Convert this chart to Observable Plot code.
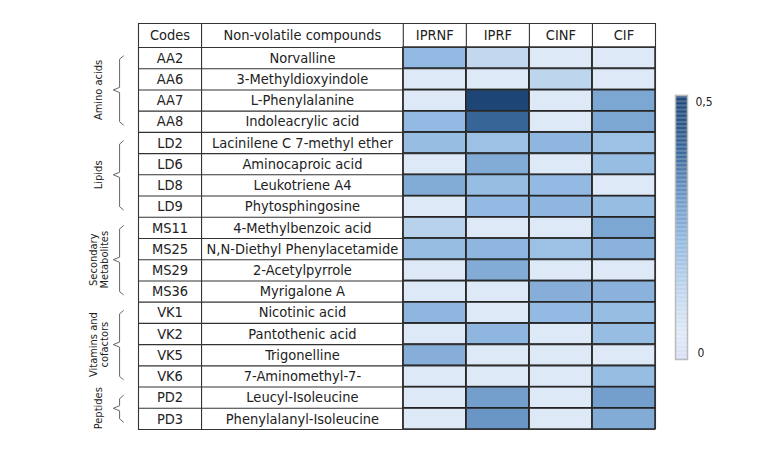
<!DOCTYPE html>
<html><head><meta charset="utf-8">
<script src="https://cdn.jsdelivr.net/npm/d3@7"></script>
<script src="https://cdn.jsdelivr.net/npm/@observablehq/plot@0.6"></script>
<style>
body{margin:0;background:#fff;}
#wrap{position:relative;width:773px;height:451px;overflow:hidden;}
#legend{position:absolute;left:669px;top:88px;}
</style></head><body>
<div id="wrap"><div id="main"></div><div id="legend"></div></div>
<script>
// ---- data ----
const groups = ["Amino acids", "Lipids", "Secondary\nMetabolites", "Vitamins and\ncofactors", "Peptides"];
const groupSizes = [4, 4, 4, 4, 2];
const codes = ["AA2","AA6","AA7","AA8","LD2","LD6","LD8","LD9","MS11","MS25","MS29","MS36","VK1","VK2","VK5","VK6","PD2","PD3"];
const compounds = ["Norvalline","3-Methyldioxyindole","L-Phenylalanine","Indoleacrylic acid",
  "Lacinilene C 7-methyl ether","Aminocaproic acid","Leukotriene A4","Phytosphingosine",
  "4-Methylbenzoic acid","N,N-Diethyl Phenylacetamide","2-Acetylpyrrole","Myrigalone A",
  "Nicotinic acid","Pantothenic acid","Trigonelline","7-Aminomethyl-7-",
  "Leucyl-Isoleucine","Phenylalanyl-Isoleucine"];
const samples = ["IPRNF", "IPRF", "CINF", "CIF"];
const IPRNF = [0.22,0.05,0.05,0.22, 0.21,0.05,0.26,0.05, 0.14,0.21,0.05,0.05, 0.23,0.05,0.25,0.05, 0.05,0.05];
const IPRF  = [0.12,0.05,0.50,0.40, 0.20,0.26,0.21,0.22, 0.05,0.23,0.26,0.05, 0.05,0.23,0.05,0.05, 0.29,0.31];
const CINF  = [0.05,0.13,0.05,0.05, 0.23,0.05,0.22,0.23, 0.05,0.20,0.05,0.25, 0.22,0.05,0.05,0.05, 0.05,0.05];
const CIF   = [0.05,0.05,0.27,0.27, 0.20,0.21,0.05,0.21, 0.27,0.24,0.05,0.24, 0.21,0.21,0.05,0.21, 0.29,0.26];
const headers = ["Codes", "Non-volatile compounds", ...samples];
const legendTicks = [0, 0.5];
const legendLabels = ["0", "0,5"];

// ---- layout ----
const colWidths = [1, 3.2, 1, 1, 1, 1];
const colX = [0]; colWidths.forEach(w => colX.push(colX[colX.length - 1] + w));
const H = 1.13;                     // header row height in row units
const totalH = H + codes.length;
const font = '"DejaVu Sans Condensed","Liberation Sans",sans-serif';
const colorScale = {
  type: "linear",
  domain: [0, 0.05, 0.12, 0.22, 0.3, 0.4, 0.5],
  range: ["#d9dff5", "#dde9f6", "#c3d8ef", "#93bae2", "#709bca", "#386598", "#1d4677"]
};

const rows = codes.map((c, i) => ({code: c, compound: compounds[i], row: i}));
const series = [IPRNF, IPRF, CINF, CIF];
const cells = samples.flatMap((s, j) => series[j].map((v, i) => ({sample: s, col: j, row: i, value: v})));
const headerData = headers.map((h, j) => ({text: h, col: j}));

let start = 0;
const groupData = groups.map((g, k) => {
  const s = start, e = start + groupSizes[k] - 1; start += groupSizes[k];
  return {name: g, s, e, center: H + (s + e + 1) / 2};
});
const bracketPts = groupData.flatMap((g, k) => {
  const top = H + g.s + 0.4, bot = H + g.e + 1 - 0.35, mid = g.center;
  return [[-0.24, top], [-0.30, top + 0.15], [-0.30, mid - 0.12], [-0.40, mid],
          [-0.30, mid + 0.12], [-0.30, bot - 0.15], [-0.24, bot]].map(([x, y]) => ({x, y, k}));
});
const hLines = d3.range(codes.length + 1).map(i => H + i).concat([0]);

const main = Plot.plot({
  width: 773, height: 451,
  marginLeft: 138, marginRight: 118, marginTop: 23, marginBottom: 22,
  x: {domain: [0, colX[colX.length - 1]], axis: null},
  y: {domain: [0, totalH], reverse: true, axis: null},
  color: colorScale,
  style: {fontFamily: font, color: "#222", background: "#fff"},
  marks: [
    Plot.rect(cells, {x1: d => colX[2 + d.col], x2: d => colX[3 + d.col], y1: d => H + d.row, y2: d => H + d.row + 1,
      fill: "value", stroke: "#1a1a1a", strokeWidth: 1.3}),
    Plot.ruleY(hLines, {y: d => d, x1: 0, x2: colX[colX.length - 1], stroke: "#333", strokeWidth: 1.1}),
    Plot.ruleX(colX, {x: d => d, y1: 0, y2: totalH, stroke: "#333", strokeWidth: 1.1}),
    Plot.text(headerData, {x: d => (colX[d.col] + colX[d.col + 1]) / 2, y: d => H / 2, text: "text", fontSize: 14.5, fill: "#222"}),
    Plot.text(rows, {x: d => (colX[0] + colX[1]) / 2, y: d => H + d.row + 0.5, text: "code", fontSize: 14.5, fill: "#222"}),
    Plot.text(rows, {x: d => (colX[1] + colX[2]) / 2, y: d => H + d.row + 0.5, text: "compound", fontSize: 14.5, fill: "#222"}),
    Plot.line(bracketPts, {x: "x", y: "y", z: "k", stroke: "#666", strokeWidth: 1}),
    Plot.text(groupData, {x: d => -0.63, y: "center", text: "name", rotate: -90, fontSize: 11, lineHeight: 1.0, fill: "#222"})
  ]
});
document.getElementById("main").appendChild(main);

const steps = d3.range(0, 0.5, 0.0025);
const legend = Plot.plot({
  width: 60, height: 280,
  marginLeft: 6, marginRight: 42, marginTop: 7, marginBottom: 9,
  y: {domain: [0, 0.5], axis: null},
  color: colorScale,
  style: {fontFamily: font, background: "transparent"},
  marks: [
    Plot.rect(steps, {y1: d => d, y2: d => d + 0.0026, fill: d => d + 0.00125}),
    Plot.frame({stroke: "#bbb", strokeWidth: 1.5}),
    Plot.text([legendTicks[1]], {y: d => d, text: d => legendLabels[1], frameAnchor: "right", dx: 8, dy: 7, textAnchor: "start", fontSize: 12, fill: "#222"}),
    Plot.text([legendTicks[0]], {y: d => d, text: d => legendLabels[0], frameAnchor: "right", dx: 10, dy: -6, textAnchor: "start", fontSize: 12, fill: "#222"})
  ]
});
document.getElementById("legend").appendChild(legend);
</script>
</body></html>
